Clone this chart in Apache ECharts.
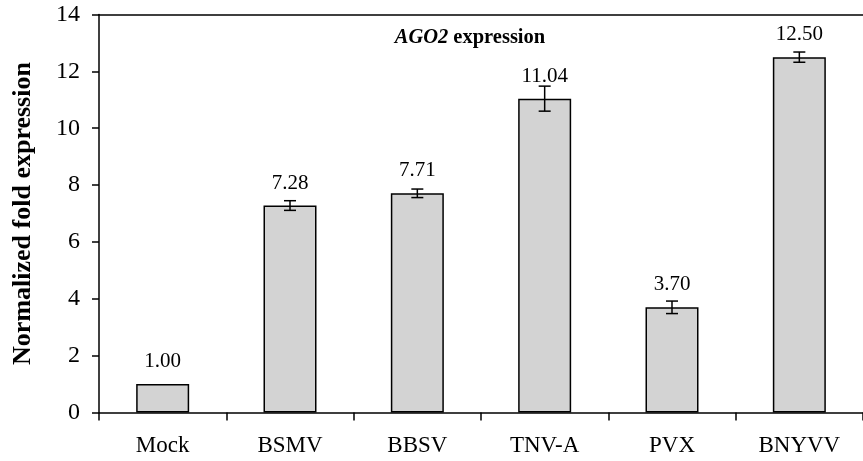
<!DOCTYPE html>
<html>
<head>
<meta charset="utf-8">
<script src="https://cdn.jsdelivr.net/npm/echarts@6/dist/echarts.min.js"></script>
<style>html,body{margin:0;padding:0;background:#fff;}#c{width:863px;height:461px;}</style>
</head>
<body>
<div id="c"></div>
<script>
const categories = ['Mock', 'BSMV', 'BBSV', 'TNV-A', 'PVX', 'BNYVV'];
const values = [1.00, 7.28, 7.71, 11.04, 3.70, 12.50];
const errors = [0, 0.17, 0.15, 0.44, 0.22, 0.18];
const yTicks = [0, 2, 4, 6, 8, 10, 12, 14];

const FONT = '"Liberation Serif", "Times New Roman", serif';
const errData = values.map((v, i) => [i, v - errors[i], v + errors[i]]);

const chart = echarts.init(document.getElementById('c'));
chart.setOption({
  animation: false,
  backgroundColor: '#fff',
  title: {
    text: '{i|AGO2} {b|expression}',
    left: 465, top: 22, textAlign: 'center',
    textStyle: {
      rich: {
        i: {fontFamily: FONT, fontSize: 20.5, fontWeight: 'bold', fontStyle: 'italic', color: '#000'},
        b: {fontFamily: FONT, fontSize: 20.5, fontWeight: 'bold', color: '#000'}
      }
    }
  },
  grid: {left: 99, top: 14.5, width: 776, height: 398},
  xAxis: [{
    type: 'category',
    data: categories,
    axisLine: {lineStyle: {color: '#000', width: 1.5}},
    axisTick: {show: true, length: 8, lineStyle: {color: '#000', width: 1.5}},
    axisLabel: {fontFamily: FONT, fontSize: 23, color: '#000', margin: 22}
  }, {
    type: 'category',
    position: 'top',
    data: categories,
    axisLine: {show: true, lineStyle: {color: '#000', width: 1.5}},
    axisTick: {show: false},
    axisLabel: {show: false}
  }],
  yAxis: {
    type: 'value',
    min: yTicks[0], max: yTicks[yTicks.length - 1], interval: 2,
    name: 'Normalized fold expression',
    nameLocation: 'middle',
    nameGap: 63,
    nameTextStyle: {fontFamily: FONT, fontSize: 26, fontWeight: 'bold', color: '#000'},
    axisLine: {show: true, lineStyle: {color: '#000', width: 1.5}},
    axisTick: {show: true, length: 7, lineStyle: {color: '#000', width: 1.5}},
    axisLabel: {fontFamily: FONT, fontSize: 24, color: '#000', margin: 19},
    splitLine: {show: false}
  },
  series: [{
    type: 'bar',
    data: values,
    barWidth: 53,
    itemStyle: {color: '#d3d3d3', borderColor: '#000', borderWidth: 1.5},
    label: {
      show: true, position: 'top', distance: 12,
      fontFamily: FONT, fontSize: 21, color: '#000',
      formatter: p => p.value.toFixed(2)
    },
    z: 2
  }, {
    type: 'custom',
    data: errData,
    z: 5,
    renderItem: function (params, api) {
      const x = api.value(0);
      const lo = api.coord([x, api.value(1)]);
      const hi = api.coord([x, api.value(2)]);
      const hw = 6;
      const st = {stroke: '#000', lineWidth: 1.5};
      if (api.value(2) - api.value(1) <= 0) return null;
      return {
        type: 'group',
        children: [
          {type: 'line', shape: {x1: lo[0], y1: lo[1], x2: hi[0], y2: hi[1]}, style: st},
          {type: 'line', shape: {x1: lo[0] - hw, y1: lo[1], x2: lo[0] + hw, y2: lo[1]}, style: st},
          {type: 'line', shape: {x1: hi[0] - hw, y1: hi[1], x2: hi[0] + hw, y2: hi[1]}, style: st}
        ]
      };
    }
  }]
});
</script>
</body>
</html>
